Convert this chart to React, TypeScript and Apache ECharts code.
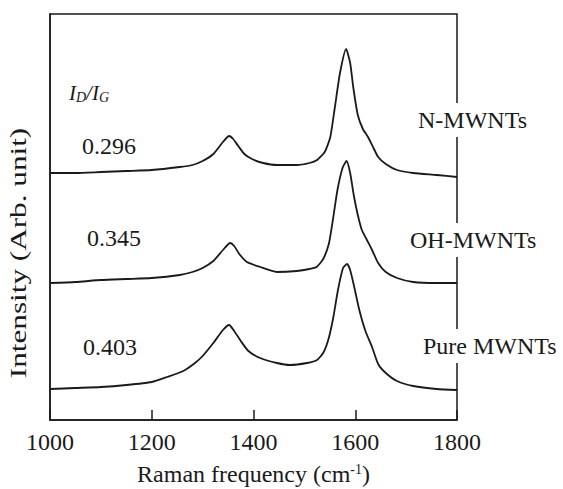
import React, { useEffect, useRef } from "react";
import * as echarts from "echarts";

const xTicks = [1000, 1200, 1400, 1600, 1800];

const freqN = [1000, 1050, 1100, 1150, 1200, 1255, 1280, 1300, 1321, 1340, 1352, 1360, 1370, 1382, 1397, 1419, 1446, 1485, 1510, 1525, 1540, 1551, 1560, 1570, 1582, 1590, 1596, 1605, 1615, 1625, 1635, 1645, 1660, 1682, 1714, 1760, 1800];
const valN = [247, 247, 248, 249, 250, 253, 255, 259, 266, 278, 284, 281, 274, 266, 261, 257, 255, 255, 257, 260, 268, 283, 313, 347, 371, 357, 333, 305, 291, 283, 273, 263, 256, 250, 247, 245, 243];

const freqOH = [1000, 1050, 1100, 1150, 1200, 1255, 1280, 1300, 1321, 1340, 1354, 1362, 1372, 1387, 1413, 1446, 1485, 1510, 1524, 1537, 1548, 1556, 1565, 1575, 1583, 1590, 1597, 1605, 1613, 1623, 1633, 1645, 1660, 1682, 1714, 1760, 1800];
const valOH = [137, 138, 140, 141, 142, 145, 148, 152, 159, 170, 177, 174, 166, 158, 153, 148, 149, 151, 153, 161, 176, 200, 230, 252, 259, 247, 225, 205, 190, 180, 170, 157, 148, 142, 138, 137, 137];

const freqP = [1000, 1050, 1100, 1150, 1200, 1230, 1262, 1285, 1300, 1321, 1340, 1352, 1362, 1375, 1390, 1413, 1446, 1472, 1505, 1525, 1538, 1548, 1557, 1566, 1576, 1584, 1590, 1598, 1608, 1620, 1633, 1645, 1660, 1682, 1714, 1760, 1800];
const valP = [31, 32, 33, 35, 38, 43, 49, 57, 64, 77, 90, 95, 89, 79, 69, 62, 57, 55, 57, 60, 68, 82, 103, 130, 152, 156, 150, 133, 110, 89, 73, 56, 47, 39, 34, 31, 30];

const seriesNames = ["N-MWNTs", "OH-MWNTs", "Pure MWNTs"];
const ratios = ["0.296", "0.345", "0.403"];

const FONT = "Liberation Serif, Times New Roman, serif";
const INK = "#1a1a1a";

function zip(xs: number[], ys: number[]) {
  return xs.map((x, i) => [x, ys[i]]);
}

export default function App() {
  const ref = useRef<HTMLDivElement>(null);
  useEffect(() => {
    if (!ref.current) return;
    const chart = echarts.init(ref.current, null, { renderer: "svg" });
    const lineSeries = (name: string, xs: number[], ys: number[]) => ({
      type: "line",
      name,
      data: zip(xs, ys),
      smooth: 0.2,
      showSymbol: false,
      lineStyle: { color: INK, width: 1.8 },
      silent: true,
    });
    chart.setOption({
      animation: false,
      backgroundColor: "#ffffff",
      grid: {
        left: 50,
        right: 106,
        top: 14,
        bottom: 69,
        show: true,
        borderColor: INK,
        borderWidth: 1.5,
        containLabel: false,
        outerBoundsMode: "none",
      },
      xAxis: {
        type: "value",
        min: 1000,
        max: 1800,
        interval: 200,
        name: "Raman frequency (cm{sup|-1})",
        nameLocation: "middle",
        nameGap: 42,
        nameTextStyle: {
          fontFamily: FONT,
          fontSize: 24,
          color: INK,
          lineHeight: 24,
          rich: {
            sup: { fontFamily: FONT, fontSize: 14, color: INK, lineHeight: 24, padding: [0, 0, 9, 0] },
          },
        },
        axisLine: { show: true, lineStyle: { color: INK, width: 1.5 } },
        axisTick: { show: true, inside: true, length: 10, lineStyle: { color: INK, width: 1.5 } },
        axisLabel: {
          fontFamily: FONT,
          fontSize: 24,
          color: INK,
          margin: 10,
          formatter: (v: number) => (xTicks.includes(v) ? String(v) : ""),
        },
        splitLine: { show: false },
      },
      yAxis: {
        type: "value",
        min: 0,
        max: 406,
        axisLine: { show: true, lineStyle: { color: INK, width: 1.5 } },
        axisTick: { show: false },
        axisLabel: { show: false },
        splitLine: { show: false },
      },
      series: [
        lineSeries(seriesNames[0], freqN, valN),
        lineSeries(seriesNames[1], freqOH, valOH),
        lineSeries(seriesNames[2], freqP, valP),
      ],
      graphic: [
        {
          type: "text",
          x: 18,
          y: 253,
          rotation: Math.PI / 2,
          scaleX: 1.3,
          style: {
            text: "Intensity (Arb. unit)",
            font: `24px ${FONT}`,
            fill: INK,
            align: "center",
            verticalAlign: "middle",
          },
        },
        {
          type: "text",
          x: 69,
          y: 93,
          style: {
            text: "{i|I}{s|D}{i|/I}{s|G}",
            fill: INK,
            align: "left",
            verticalAlign: "middle",
            rich: {
              i: { fontFamily: FONT, fontStyle: "italic", fontSize: 21, fill: INK },
              s: { fontFamily: FONT, fontStyle: "italic", fontSize: 14, fill: INK, padding: [9, 0, 0, 0] },
            },
          },
        },
        ...ratios.map((t, i) => ({
          type: "text",
          x: [82, 87, 83][i],
          y: [146, 238, 347][i],
          style: {
            text: t,
            font: `24px ${FONT}`,
            fill: INK,
            align: "left",
            verticalAlign: "middle",
          },
        })),
        ...seriesNames.map((t, i) => ({
          type: "text",
          x: [418, 410, 423][i],
          y: [120, 240, 346][i],
          z: 100,
          style: {
            text: t,
            font: `24px ${FONT}`,
            fill: INK,
            align: "left",
            verticalAlign: "middle",
            backgroundColor: "#ffffff",
            padding: [5, 0, 5, 0],
          },
        })),
      ],
    });
    return () => chart.dispose();
  }, []);
  return (
    <div
      ref={ref}
      style={{ position: "fixed", left: 0, top: 0, width: 563, height: 489, background: "#fff" }}
    />
  );
}
